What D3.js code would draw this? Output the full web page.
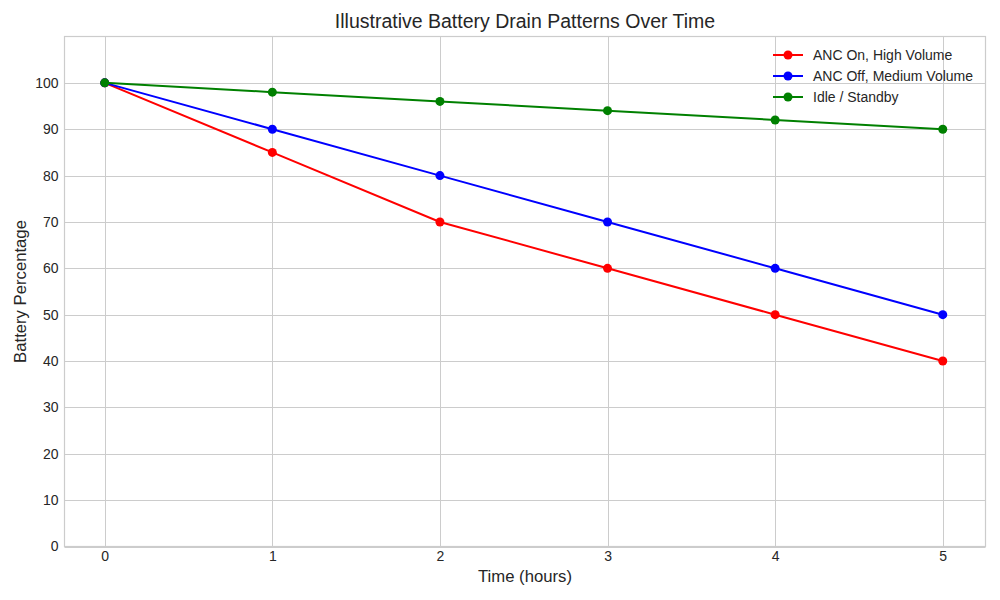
<!DOCTYPE html>
<html><head><meta charset="utf-8">
<script src="https://cdn.jsdelivr.net/npm/d3@7"></script>
<style>body{margin:0;background:#fff}svg{display:block}text{font-family:"Liberation Sans",Arial,sans-serif;fill:#262626}</style>
</head><body><svg id="c" width="1000" height="600"></svg>
<script>
const hours = [0,1,2,3,4,5];
const ancOnHigh = [100,85,70,60,50,40];
const ancOffMedium = [100,90,80,70,60,50];
const idleStandby = [100,98,96,94,92,90];
const seriesNames = ["ANC On, High Volume","ANC Off, Medium Volume","Idle / Standby"];
const seriesColors = ["#ff0000","#0000ff","#008000"];
const yTicks = [0,10,20,30,40,50,60,70,80,90,100];
const xTicks = [0,1,2,3,4,5];

const series = [ancOnHigh, ancOffMedium, idleStandby];
const svg = d3.select("#c");
const L=64.5, R=985.5, T=36.5, B=546.5;
const x = d3.scaleLinear().domain([-0.24,5.255]).range([L,R]);
const y = d3.scaleLinear().domain([0,110]).range([B,T]);

// grid
svg.append("g").selectAll("line").data(yTicks).join("line")
  .attr("x1",L).attr("x2",R).attr("y1",d=>Math.round(y(d))+0.5).attr("y2",d=>Math.round(y(d))+0.5)
  .attr("stroke","#cccccc").attr("stroke-width",1);
svg.append("g").selectAll("line").data(xTicks).join("line")
  .attr("y1",T).attr("y2",B).attr("x1",d=>Math.round(x(d))+0.5).attr("x2",d=>Math.round(x(d))+0.5)
  .attr("stroke","#cccccc").attr("stroke-width",1);
svg.append("rect").attr("x",L).attr("y",T).attr("width",R-L).attr("height",B-T)
  .attr("fill","none").attr("stroke","#cccccc").attr("stroke-width",1.2);

// axes (labels only)
const xa = svg.append("g").attr("transform",`translate(0,${B})`).call(d3.axisBottom(x).tickValues(xTicks).tickSize(0).tickPadding(5).tickFormat(d3.format("d")));
const ya = svg.append("g").attr("transform",`translate(${L},0)`).call(d3.axisLeft(y).tickValues(yTicks).tickSize(0).tickPadding(6).tickFormat(d3.format("d")));
[xa,ya].forEach(a=>{a.select(".domain").remove();a.selectAll("text").style("font-size","14px").attr("fill","#262626").style("font-family",'"Liberation Sans",Arial,sans-serif');});

// lines
const line = d3.line().x((d,i)=>x(hours[i])).y(d=>y(d));
series.forEach((s,k)=>{
  svg.append("path").datum(s).attr("d",line).attr("fill","none").attr("stroke",seriesColors[k]).attr("stroke-width",2);
  svg.append("g").selectAll("circle").data(s).join("circle")
    .attr("cx",(d,i)=>x(hours[i])).attr("cy",d=>y(d)).attr("r",4.5).attr("fill",seriesColors[k]);
});

// title & labels
svg.append("text").attr("x",(L+R)/2).attr("y",28).attr("text-anchor","middle").style("font-size","19.5px").text("Illustrative Battery Drain Patterns Over Time");
svg.append("text").attr("x",(L+R)/2).attr("y",582).attr("text-anchor","middle").style("font-size","16.7px").text("Time (hours)");
svg.append("text").attr("transform",`translate(26,${(T+B)/2}) rotate(-90)`).attr("text-anchor","middle").style("font-size","16.7px").text("Battery Percentage");

// legend
const lg = svg.append("g");
seriesNames.forEach((n,k)=>{
  const yy = 55 + k*21;
  lg.append("line").attr("x1",773).attr("x2",803).attr("y1",yy).attr("y2",yy).attr("stroke",seriesColors[k]).attr("stroke-width",2);
  lg.append("circle").attr("cx",788).attr("cy",yy).attr("r",4.5).attr("fill",seriesColors[k]);
  lg.append("text").attr("x",813).attr("y",yy+5).style("font-size","14px").text(n);
});
</script></body></html>
